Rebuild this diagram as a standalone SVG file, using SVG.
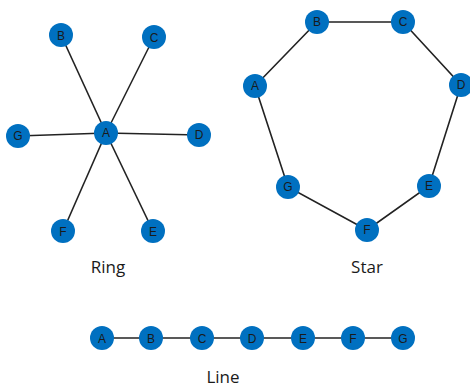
<svg xmlns="http://www.w3.org/2000/svg" width="470" height="389" viewBox="0 0 470 389">
<style>
.n{fill:#0070C0;}
.t{font-family:"Liberation Sans","Open Sans",sans-serif;font-size:12px;fill:#1a1a1a;text-anchor:middle;dominant-baseline:central;}
.e{stroke:#222;stroke-width:1.6;fill:none;}
.lbl{font-family:"Open Sans","Liberation Sans",sans-serif;font-size:17px;fill:#1a1a1a;text-anchor:middle;}
</style>
<g id="connectors">
<line class="e" x1="106" y1="133" x2="61" y2="35"/>
<line class="e" x1="106" y1="133" x2="154" y2="37"/>
<line class="e" x1="106" y1="133" x2="18" y2="136"/>
<line class="e" x1="106" y1="133" x2="199" y2="135"/>
<line class="e" x1="106" y1="133" x2="63" y2="231"/>
<line class="e" x1="106" y1="133" x2="153" y2="231"/>
<polyline class="e" points="255,86 317,22 403,22 461,85 429,186 367,230 288,187 255,86"/>
<line class="e" x1="102" y1="338" x2="403" y2="338"/>
</g>
<g id="ring-A"><circle class="n" cx="106" cy="133" r="12"/><text class="t" x="106" y="133">A</text></g>
<g id="ring-B"><circle class="n" cx="61" cy="35" r="12"/><text class="t" x="61" y="36">B</text></g>
<g id="ring-C"><circle class="n" cx="154" cy="37" r="12"/><text class="t" x="154" y="38">C</text></g>
<g id="ring-D"><circle class="n" cx="199" cy="135" r="12"/><text class="t" x="199" y="135">D</text></g>
<g id="ring-E"><circle class="n" cx="153" cy="231" r="12"/><text class="t" x="153" y="232">E</text></g>
<g id="ring-F"><circle class="n" cx="63" cy="231" r="12"/><text class="t" x="63" y="232">F</text></g>
<g id="ring-G"><circle class="n" cx="18" cy="136" r="12"/><text class="t" x="18" y="136">G</text></g>
<text class="lbl" x="108" y="273">Ring</text>
<g id="star-A"><circle class="n" cx="255" cy="86" r="12"/><text class="t" x="255" y="86">A</text></g>
<g id="star-B"><circle class="n" cx="317" cy="22" r="12"/><text class="t" x="317" y="22">B</text></g>
<g id="star-C"><circle class="n" cx="403" cy="22" r="12"/><text class="t" x="403" y="22">C</text></g>
<g id="star-D"><circle class="n" cx="461" cy="85" r="12"/><text class="t" x="461" y="85">D</text></g>
<g id="star-E"><circle class="n" cx="429" cy="186" r="12"/><text class="t" x="429" y="186">E</text></g>
<g id="star-F"><circle class="n" cx="367" cy="230" r="12"/><text class="t" x="367" y="230">F</text></g>
<g id="star-G"><circle class="n" cx="288" cy="187" r="12"/><text class="t" x="288" y="187">G</text></g>
<text class="lbl" x="367" y="273">Star</text>
<g id="line-A"><circle class="n" cx="102" cy="338" r="12"/><text class="t" x="102" y="339">A</text></g>
<g id="line-B"><circle class="n" cx="151" cy="338" r="12"/><text class="t" x="151" y="339">B</text></g>
<g id="line-C"><circle class="n" cx="202" cy="338" r="12"/><text class="t" x="202" y="339">C</text></g>
<g id="line-D"><circle class="n" cx="252" cy="338" r="12"/><text class="t" x="252" y="339">D</text></g>
<g id="line-E"><circle class="n" cx="303" cy="338" r="12"/><text class="t" x="303" y="339">E</text></g>
<g id="line-F"><circle class="n" cx="353" cy="338" r="12"/><text class="t" x="353" y="339">F</text></g>
<g id="line-G"><circle class="n" cx="403" cy="338" r="12"/><text class="t" x="403" y="339">G</text></g>
<text class="lbl" x="223" y="383">Line</text>
</svg>
